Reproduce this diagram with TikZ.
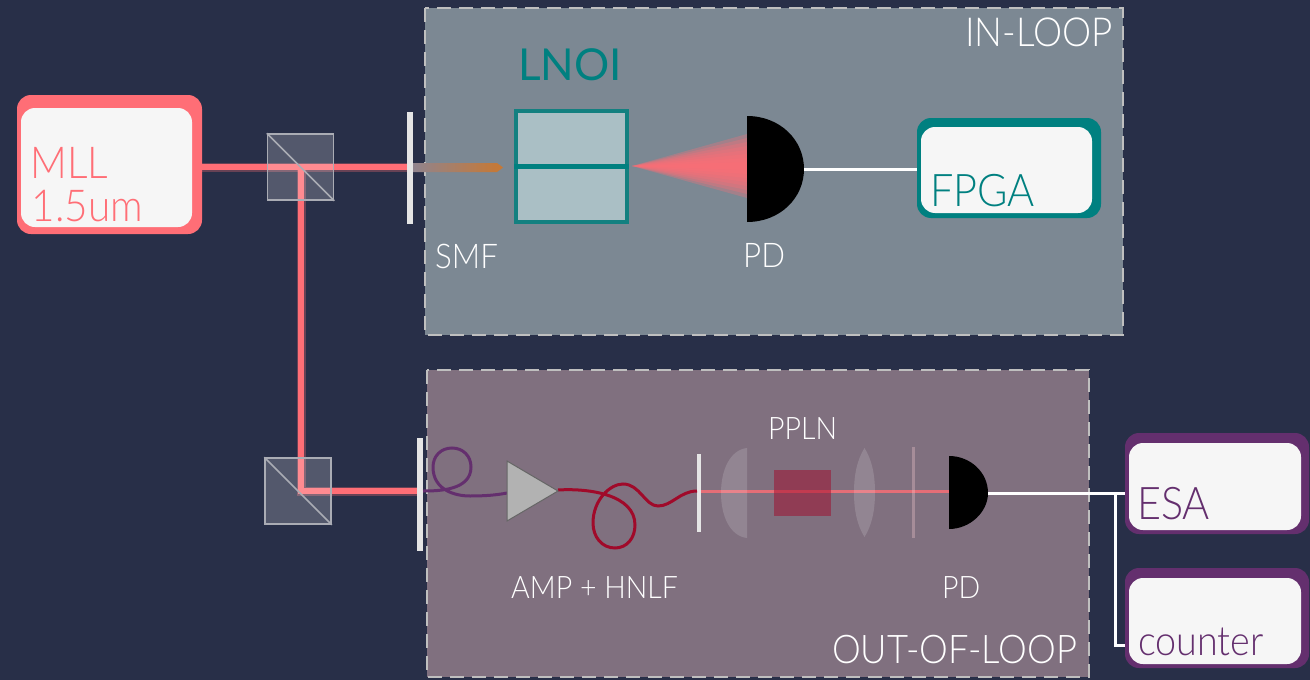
\documentclass[tikz,border=0pt]{standalone}
\usepackage{fontspec}
\setmainfont{Lato Light}[FakeStretch=0.92]
\newfontfamily\lnoifont{Lato}
\usepackage{tikz}
\definecolor{bgblue}{RGB}{40,47,72}
\definecolor{inloop}{RGB}{124,136,147}
\definecolor{outloop}{RGB}{128,112,127}
\definecolor{beamred}{RGB}{255,110,118}
\definecolor{tealbox}{RGB}{0,128,128}
\definecolor{purplebox}{RGB}{100,47,110}
\definecolor{fibrered}{RGB}{160,10,42}
\definecolor{boxwhite}{RGB}{246,246,246}
\definecolor{chipfill}{RGB}{170,191,197}
\definecolor{cubeline}{RGB}{170,172,180}
\definecolor{fibretip}{RGB}{200,120,50}
\tikzset{
	loopbox/.style={draw=black!25,line width=2pt,dash pattern=on 14pt off 8pt},
	outerbox/.style={rectangle,rounded corners=14pt,inner sep=0pt},
	innerbox/.style={rectangle,fill=boxwhite,rounded corners=14pt,inner sep=0pt},
	lbl/.style={anchor=base west,inner sep=0pt,text=white},
	beam/.style={beamred,line width=6pt},
	glow/.style={beamred,line width=9pt,opacity=0.3},
	wire/.style={white,line width=3pt},
	cube/.style={rectangle,draw=cubeline,line width=1.5pt,fill=white,fill opacity=0.2,minimum size=66pt,inner sep=0pt},
	bar/.style={rectangle,fill=black!10,inner sep=0pt},
}
\begin{document}
\begin{tikzpicture}[x=1pt,y=-1pt]
	\useasboundingbox (0,0) rectangle (1310,680);
	\fill[bgblue] (0,0) rectangle (1310,680);

	% Dashed regions
	\draw[loopbox,fill=inloop] (425,8) rectangle (1123,335);
	\draw[loopbox,fill=outloop] (427,370) rectangle (1089,677);

	% Instrument boxes
	\node[outerbox,fill=beamred,minimum width=185pt,minimum height=139pt] (mll) at (109.5,164.5) {};
	\node[innerbox,minimum width=171pt,minimum height=119pt] (mllin) at (106.5,167.5) {};
	\node[outerbox,fill=tealbox,minimum width=184pt,minimum height=100pt] (fpga) at (1009,168) {};
	\node[innerbox,minimum width=171pt,minimum height=86pt] (fpgain) at (1006.5,170) {};
	\node[outerbox,fill=purplebox,minimum width=184pt,minimum height=101pt] (esa) at (1217,483.5) {};
	\node[innerbox,minimum width=172pt,minimum height=87pt] (esain) at (1215,486.5) {};
	\node[outerbox,fill=purplebox,minimum width=184pt,minimum height=100pt] (counter) at (1217,618) {};
	\node[innerbox,minimum width=172pt,minimum height=86pt] (counterin) at (1215,621) {};

	\coordinate (bsone) at (300.5,167);
	\coordinate (bstwo) at (298,491);
	\coordinate (corner) at (301,491);
	\coordinate (split) at (301,167);
	\coordinate (smfend) at (410,167);
	\coordinate (pdone) at (804,169);
	\coordinate (pdtwo) at (988,493);
	\coordinate (junction) at (1115,493);
	\coordinate (barin) at (420,491);
	\coordinate (barpp) at (699,491);
	\coordinate (pdtwoin) at (949,491);

	% Beams
	\draw[glow] (202,167) -- (smfend);
	\draw[glow] (split) -- (corner) -- (barin);
	\draw[beam] (202,167) -- (smfend);
	\draw[beam] (split) -- (corner) -- (barin);
	\draw[beamred,line width=3pt,opacity=0.8] (barpp) -- (pdtwoin);
	\shade[left color=inloop!85!beamred,right color=fibretip] (412,163) -- (497,163) -- (503,167.5) -- (497,172) -- (412,172) -- cycle;

	% Beam splitters
	\node[cube] (cubeone) at (bsone) {};
	\node[cube] (cubetwo) at (bstwo) {};
	\draw[cubeline,line width=1.5pt] (cubeone.north west) -- (cubeone.south east);
	\draw[cubeline,line width=1.5pt] (cubetwo.north west) -- (cubetwo.south east);

	% Fibre ends
	\node[bar,minimum width=6pt,minimum height=112pt] (barone) at (409.5,168) {};
	\node[bar,minimum width=6pt,minimum height=113pt] (bartwo) at (420,494.5) {};
	\node[bar,minimum width=4pt,minimum height=78pt] (barthree) at (699,493) {};

	% LNOI
	\node[rectangle,draw=tealbox!85!gray,line width=4pt,fill=chipfill,minimum width=111pt,minimum height=111pt,inner sep=0pt] (lnoi) at (571.5,166.5) {};
	\draw[tealbox,line width=5pt] (lnoi.west) -- (lnoi.east);

	% Cone
	\foreach \w in {4,8,12,16,20,24,28,32}
		\fill[beamred,opacity=0.3] (632,166) -- (747,166-\w) -- (747,166+\w) -- cycle;

	% Detectors
	\fill[black] (747,116) .. controls (780,116) and (804,140) .. (804,169) .. controls (804,198) and (780,222) .. (747,222) -- cycle;
	\fill[black] (949,456) .. controls (970,456) and (988,472) .. (988,493) .. controls (988,512) and (970,529) .. (949,529) -- cycle;
	\draw[wire] (pdone) -- (fpga.west |- pdone);
	\draw[wire] (pdtwo) -- (esa.west |- pdtwo);
	\draw[wire] (junction) |- (counter.west |- 0,645);

	% Fibres
	\draw[purplebox,line width=3pt] (423,491) .. controls (440,491) and (471,490) .. (471,467) .. controls (471,456) and (463,448) .. (452,448) .. controls (441,448) and (433,456) .. (433,467) .. controls (433,490) and (455,496) .. (470,496) .. controls (485,496) and (497,495) .. (507,493);
	\draw[fibrered,line width=3pt] (558,490) .. controls (590,488) and (635,495) .. (635,525) .. controls (635,538) and (627,548) .. (615,548) .. controls (602,548) and (593,537) .. (593,523) .. controls (593,500) and (610,484) .. (623,484) .. controls (640,484) and (645,506) .. (658,506) .. controls (672,506) and (680,491) .. (697,491);
	\draw[black!60,fill=black!30,line width=1pt] (507,461) -- (558,491) -- (507,521) -- cycle;

	% Free space optics
	\fill[white,opacity=0.15] (747,448) .. controls (730,450) and (721,470) .. (721,493) .. controls (721,516) and (730,536) .. (747,538) -- cycle;
	\fill[white,opacity=0.15] (864.5,448) .. controls (872,460) and (875,475) .. (875,492.5) .. controls (875,510) and (872,525) .. (864.5,537) .. controls (857,525) and (854,510) .. (854,492.5) .. controls (854,475) and (857,460) .. (864.5,448) -- cycle;
	\fill[fibrered,opacity=0.5] (774,470) rectangle (831,516);
	\fill[white!70!beamred,opacity=0.3] (912,447) rectangle (915,538);

	% Labels
	\node[lbl,font=\fontsize{44}{44}\selectfont,text=beamred] (mlltxt) at (30.5,178) {MLL};
	\node[lbl,font=\fontsize{44}{44}\selectfont,text=beamred] (umtxt) at (31.5,221) {1.5um};
	\node[lbl,font=\fontsize{45}{45}\selectfont,text=tealbox] (fpgatxt) at (930,206) {FPGA};
	\node[lbl,font=\fontsize{45}{45}\selectfont,text=purplebox] (esatxt) at (1137,519) {ESA};
	\node[lbl,font=\fontsize{41}{41}\selectfont,text=purplebox] (countertxt) at (1138,655) {counter};
	\node[lbl,font=\fontsize{44}{44}\selectfont\lnoifont,text=tealbox] (lnoitxt) at (518,80) {LNOI};
	\node[lbl,font=\fontsize{34}{34}\selectfont] (smftxt) at (435,268) {SMF};
	\node[lbl,font=\fontsize{34}{34}\selectfont] (pdonetxt) at (743,267) {PD};
	\node[lbl,font=\fontsize{40}{40}\selectfont] (inlooptxt) at (965,46) {IN-LOOP};
	\node[lbl,font=\fontsize{39.5}{40}\selectfont] (outlooptxt) at (832,663) {OUT-OF-LOOP};
	\node[lbl,font=\fontsize{31}{31}\selectfont] (pplntxt) at (768,439) {PPLN};
	\node[lbl,font=\fontsize{31}{31}\selectfont] (amptxt) at (511,598) {AMP + HNLF};
	\node[lbl,font=\fontsize{31}{31}\selectfont] (pdtwotxt) at (942,598) {PD};
\end{tikzpicture}
\end{document}
